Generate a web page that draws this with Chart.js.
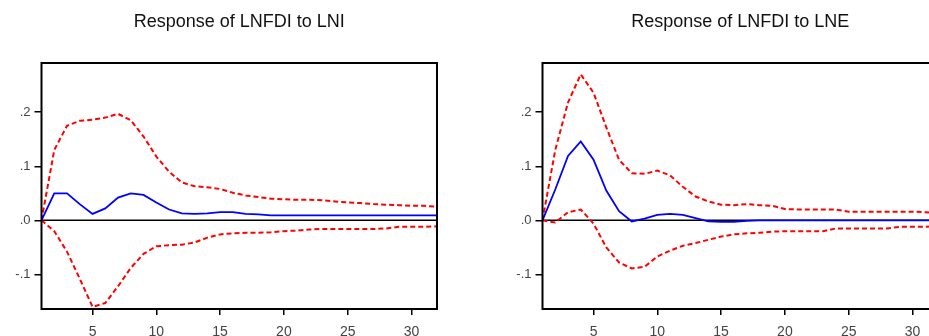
<!DOCTYPE html>
<html>
<head>
<meta charset="utf-8">
<script src="https://cdn.jsdelivr.net/npm/chart.js@4.4.1/dist/chart.umd.min.js"></script>
<style>
html, body { margin: 0; padding: 0; width: 929px; height: 336px; overflow: hidden; background: #fff; }
.panel { position: absolute; top: 0; width: 470px; height: 352px; }
#panel1 { left: 0; }
#panel2 { left: 501px; }
</style>
</head>
<body>
<div class="panel" id="panel1"><canvas id="grafica1" width="470" height="352"></canvas></div>
<div class="panel" id="panel2"><canvas id="grafica2" width="470" height="352"></canvas></div>
<script>
var periodos = [1,2,3,4,5,6,7,8,9,10,11,12,13,14,15,16,17,18,19,20,21,22,23,24,25,26,27,28,29,30,31,32];
var xTicks = [5, 10, 15, 20, 25, 30];
var yTicks = [-0.1, 0, 0.1, 0.2];
var yTickLabels = ['-.1', '.0', '.1', '.2'];

// Response of LNFDI to LNI
var titulo1 = 'Response of LNFDI to LNI';
var resp1 = [0, 0.05, 0.05, 0.03, 0.012, 0.022, 0.042, 0.05, 0.047, 0.033, 0.02, 0.013, 0.012, 0.013, 0.015, 0.015,
             0.012, 0.011, 0.009, 0.009, 0.009, 0.009, 0.009, 0.009, 0.009, 0.009, 0.009, 0.009, 0.009, 0.009, 0.009, 0.009];
var sup1 = [0, 0.13, 0.175, 0.184, 0.186, 0.19, 0.197, 0.185, 0.155, 0.118, 0.09, 0.07, 0.063, 0.061, 0.058, 0.051,
            0.046, 0.043, 0.040, 0.039, 0.038, 0.038, 0.037, 0.035, 0.033, 0.032, 0.030, 0.029, 0.028, 0.027, 0.027, 0.025];
var inf1 = [0, -0.02, -0.058, -0.108, -0.16, -0.153, -0.122, -0.088, -0.062, -0.048, -0.046, -0.045, -0.041, -0.032, -0.026, -0.024,
            -0.023, -0.023, -0.022, -0.020, -0.019, -0.017, -0.016, -0.016, -0.016, -0.016, -0.016, -0.015, -0.012, -0.012, -0.012, -0.011];

// Response of LNFDI to LNE
var titulo2 = 'Response of LNFDI to LNE';
var resp2 = [0, 0.057, 0.119, 0.146, 0.112, 0.055, 0.017, -0.002, 0.003, 0.01, 0.012, 0.01, 0.004, -0.002, -0.003, -0.003,
             -0.001, 0, 0, 0, 0, 0, 0, 0, 0, 0, 0, 0, 0, 0, 0, 0];
var sup2 = [0, 0.13, 0.218, 0.27, 0.236, 0.172, 0.112, 0.087, 0.086, 0.092, 0.083, 0.062, 0.044, 0.035, 0.029, 0.028,
            0.030, 0.028, 0.027, 0.021, 0.020, 0.020, 0.020, 0.020, 0.016, 0.016, 0.016, 0.016, 0.016, 0.016, 0.015, 0.014];
var inf2 = [0, -0.004, 0.015, 0.02, -0.006, -0.05, -0.078, -0.089, -0.086, -0.067, -0.056, -0.047, -0.042, -0.036, -0.030, -0.026,
            -0.024, -0.023, -0.021, -0.020, -0.020, -0.020, -0.020, -0.015, -0.015, -0.015, -0.015, -0.015, -0.012, -0.012, -0.012, -0.011];

var fuente = 'Liberation Sans, Arial, sans-serif';

function puntos(valores) {
    return periodos.map(function (p, i) { return { x: p, y: valores[i] }; });
}

// zero line under the data, box frame on top
var marco = {
    id: 'marco',
    beforeDatasetsDraw: function (chart) {
        var ctx = chart.ctx, a = chart.chartArea;
        var y0 = chart.scales.y.getPixelForValue(0);
        ctx.save();
        ctx.strokeStyle = '#000';
        ctx.lineWidth = 1.5;
        ctx.beginPath();
        ctx.moveTo(a.left, y0);
        ctx.lineTo(a.right, y0);
        ctx.stroke();
        ctx.restore();
    },
    afterDatasetsDraw: function (chart) {
        var ctx = chart.ctx, a = chart.chartArea;
        ctx.save();
        ctx.strokeStyle = '#000';
        ctx.lineWidth = 2;
        ctx.strokeRect(a.left, a.top, a.right - a.left, a.bottom - a.top);
        ctx.restore();
    }
};

function crearGrafica(id, titulo, resp, sup, inf) {
    var ctx = document.getElementById(id).getContext('2d');
    return new Chart(ctx, {
        type: 'line',
        data: {
            datasets: [
                { data: puntos(resp), borderColor: '#0000ff', borderWidth: 1.8, pointRadius: 0, tension: 0 },
                { data: puntos(sup), borderColor: '#ff0000', borderWidth: 2, borderDash: [5, 3], pointRadius: 0, tension: 0 },
                { data: puntos(inf), borderColor: '#ff0000', borderWidth: 2, borderDash: [5, 3], pointRadius: 0, tension: 0 }
            ]
        },
        options: {
            responsive: false,
            animation: false,
            layout: { padding: { top: 0, left: 0, right: 33, bottom: 0 } },
            plugins: {
                legend: { display: false },
                tooltip: { enabled: false },
                title: {
                    display: true,
                    text: titulo,
                    fullSize: false,
                    color: '#111',
                    font: { family: fuente, size: 18, weight: 'normal' },
                    padding: { top: 11, bottom: 30.4 }
                }
            },
            scales: {
                x: {
                    type: 'linear',
                    min: 1,
                    max: 32,
                    afterBuildTicks: function (s) { s.ticks = xTicks.map(function (v) { return { value: v }; }); },
                    afterFit: function (s) { s.height = 43; },
                    border: { display: false },
                    grid: { drawOnChartArea: false, drawTicks: true, tickLength: 6, color: '#000', lineWidth: 1.5 },
                    ticks: { autoSkip: false, maxRotation: 0, padding: 9, color: '#444', font: { family: fuente, size: 14 } }
                },
                y: {
                    min: -0.164,
                    max: 0.291,
                    afterBuildTicks: function (s) { s.ticks = yTicks.map(function (v) { return { value: v }; }); },
                    afterFit: function (s) { s.width = 41.5; },
                    border: { display: false },
                    grid: { drawOnChartArea: false, drawTicks: true, tickLength: 7, color: '#000', lineWidth: 1.5 },
                    ticks: {
                        padding: 4,
                        color: '#444',
                        font: { family: fuente, size: 13 },
                        callback: function (v) { return yTickLabels[yTicks.indexOf(v)]; }
                    }
                }
            }
        },
        plugins: [marco]
    });
}

crearGrafica('grafica1', titulo1, resp1, sup1, inf1);
crearGrafica('grafica2', titulo2, resp2, sup2, inf2);
</script>
</body>
</html>
